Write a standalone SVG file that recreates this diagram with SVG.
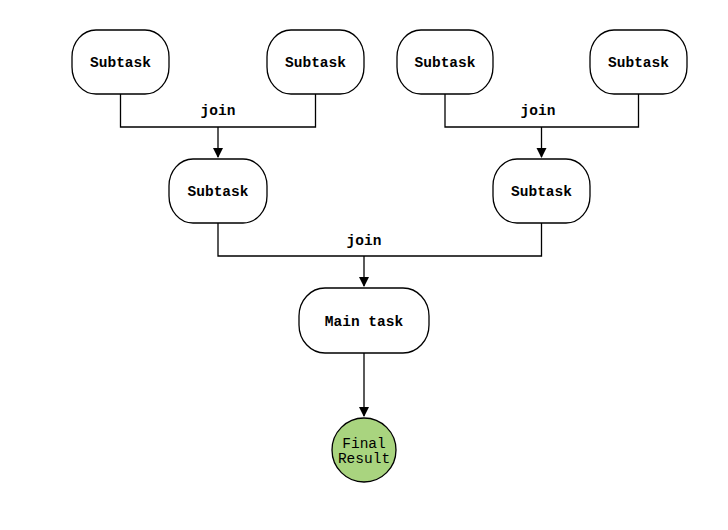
<svg xmlns="http://www.w3.org/2000/svg" width="728" height="530" viewBox="0 0 728 530">
<style>
.box{fill:#fff;stroke:#000;stroke-width:1.3}
.t{font-family:"Liberation Mono",monospace;font-size:14.5px;font-weight:bold;text-anchor:middle;fill:#000}
.f{font-family:"Liberation Mono",monospace;font-size:14.5px;text-anchor:middle;fill:#000}
.c{fill:none;stroke:#000;stroke-width:1.3}
</style>
<defs>
<marker id="ah" markerWidth="10" markerHeight="12" refX="9" refY="5" orient="auto" markerUnits="userSpaceOnUse">
<path d="M0,0 L10,5 L0,10 z" fill="#000"/>
</marker>
</defs>
<rect width="728" height="530" fill="#fff"/>
<g id="connectors">
<path class="c" d="M120.5,94 V127 H315.5 V94"/>
<path class="c" d="M218,127 V157" marker-end="url(#ah)"/>
<path class="c" d="M445,94 V127 H638.5 V94"/>
<path class="c" d="M541.5,127 V157" marker-end="url(#ah)"/>
<path class="c" d="M218,223 V256 H541.5 V223"/>
<path class="c" d="M364,256 V286" marker-end="url(#ah)"/>
<path class="c" d="M364,353 V416" marker-end="url(#ah)"/>
<text class="t" x="218" y="115">join</text>
<text class="t" x="538" y="115">join</text>
<text class="t" x="364" y="245">join</text>
</g>
<g id="s1"><rect class="box" x="72" y="30" width="97" height="64" rx="24" ry="27"/><text class="t" x="120.5" y="67">Subtask</text></g>
<g id="s2"><rect class="box" x="267" y="30" width="97" height="64" rx="24" ry="27"/><text class="t" x="315.5" y="67">Subtask</text></g>
<g id="s3"><rect class="box" x="397" y="30" width="96" height="64" rx="24" ry="27"/><text class="t" x="445" y="67">Subtask</text></g>
<g id="s4"><rect class="box" x="590" y="30" width="97" height="64" rx="24" ry="27"/><text class="t" x="638.5" y="67">Subtask</text></g>
<g id="m1"><rect class="box" x="169" y="159" width="98" height="64" rx="24" ry="27"/><text class="t" x="218" y="196">Subtask</text></g>
<g id="m2"><rect class="box" x="493" y="159" width="97" height="64" rx="24" ry="27"/><text class="t" x="541.5" y="196">Subtask</text></g>
<g id="main"><rect class="box" x="299" y="288" width="130" height="65" rx="26" ry="28"/><text class="t" x="364" y="326">Main task</text></g>
<g id="final"><circle cx="364" cy="450" r="32" fill="#a9d47f" stroke="#000" stroke-width="1.3"/><text class="f" x="364" y="448">Final</text><text class="f" x="364" y="463">Result</text></g>
</svg>
